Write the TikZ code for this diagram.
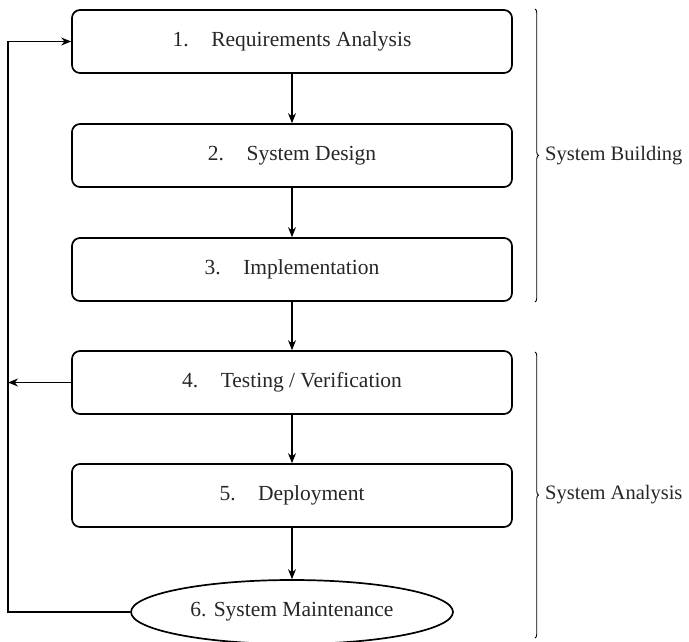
\documentclass[tikz,border=0pt]{standalone}
\usepackage{fontspec}
\setmainfont{Liberation Serif}
\usetikzlibrary{arrows.meta,shapes.geometric,decorations.pathreplacing}

\tikzset{
  stagebox/.style={draw, line width=1.7pt, rounded corners=8pt, minimum width=440pt,
    minimum height=63pt, inner sep=0pt, text=black!85},
  finalstage/.style={draw, ellipse, line width=1.7pt, minimum width=322pt,
    minimum height=64pt, inner sep=0pt, text=black!85},
  flow/.style={line width=1.2pt, -{Stealth[length=10pt,width=8pt]}},
  phasebrace/.style={decorate, decoration={brace, amplitude=3.5pt}, line width=0.9pt},
  phaselabel/.style={anchor=west, inner sep=0pt, text=black!85,
    font=\fontsize{20.5}{24}\selectfont}
}

\newcommand{\stagetext}[2]{#1\hspace{1.05em}#2}

\begin{document}
\begin{tikzpicture}[x=1pt,y=1pt,font=\fontsize{21.5}{25}\selectfont]
  \useasboundingbox (0,0) rectangle (689,-641);

  % life-cycle stages
  \node[stagebox] (s1) at (292,-41.5)  {\stagetext{1.}{Requirements Analysis}};
  \node[stagebox] (s2) at (292,-155.5) {\stagetext{2.}{System Design}};
  \node[stagebox] (s3) at (292,-269.5) {\stagetext{3.}{Implementation}};
  \node[stagebox] (s4) at (292,-382.5) {\stagetext{4.}{Testing / Verification}};
  \node[stagebox] (s5) at (292,-495.5) {\stagetext{5.}{Deployment}};
  \node[finalstage] (s6) at (292,-612) {6. System Maintenance};

  % forward flow
  \draw[flow] (s1) -- (s2);
  \draw[flow] (s2) -- (s3);
  \draw[flow] (s3) -- (s4);
  \draw[flow] (s4) -- (s5);
  \draw[flow] (s5) -- (s6);

  % feedback loop on the left
  \coordinate (corner) at (8,-612);
  \coordinate (rail) at (8,-382.5);
  \draw[flow] (s6.west) -- (corner) |- (s1.west);
  \draw[flow] (s4.west) -- (rail);

  % phase braces
  \draw[phasebrace] (535,-9) -- coordinate[xshift=10pt] (b1) (535,-302);
  \node[phaselabel] (lb1) at (b1) {System Building};
  \draw[phasebrace] (535,-352) -- coordinate[xshift=10pt] (b2) (535,-638);
  \node[phaselabel] (lb2) at (b2) {System Analysis};
\end{tikzpicture}
\end{document}
